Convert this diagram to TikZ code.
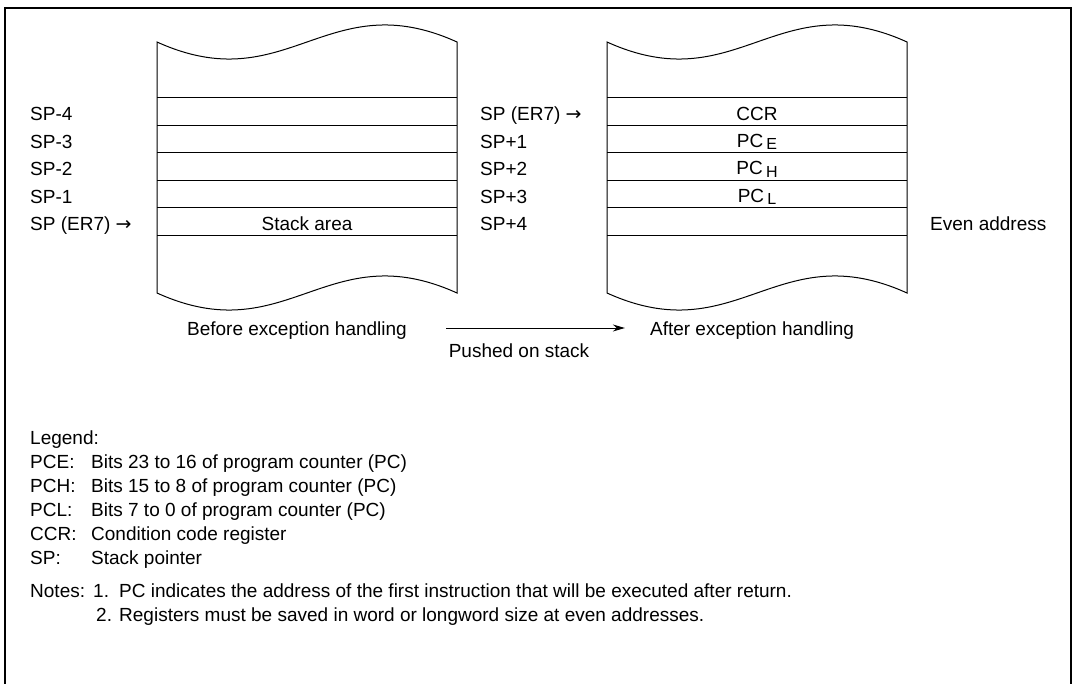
\documentclass[tikz,border=0pt]{standalone}
\usepackage{fontspec}
\setmainfont{Liberation Sans}
\newfontfamily\arrowfont{DejaVu Sans}
\usetikzlibrary{arrows.meta,positioning}
\tikzset{
  txt/.style={font=\fontsize{19}{23}\selectfont,inner sep=0pt,anchor=base},
  lft/.style={txt,anchor=base west},
  stk/.style={line width=1pt},
  frm/.style={line width=2pt},
  push/.style={-{Stealth[length=12pt,width=7pt]},line width=1pt},
}
\newcommand{\regsub}[1]{\,\raisebox{-0.22ex}{\fontsize{16}{16}\selectfont #1}}
\newcommand{\ptr}{{\arrowfont →}}

\begin{document}
\begin{tikzpicture}[x=1pt,y=-1pt]
    \useasboundingbox (0,0) rectangle (1075,684);
    % frame (open at the bottom)
    \draw[frm] (5,684) -- (5,8) -- (1071,8) -- (1071,684);
    % the two stacks
    \foreach \dx in {0,450}{
      \draw[stk] (157+\dx,42) .. controls (287+\dx,101) and (327+\dx,-17) .. (457+\dx,42)
        -- (457+\dx,293) .. controls (327+\dx,234) and (287+\dx,352) .. (157+\dx,293) -- cycle;
      \foreach \y in {98,125.5,153,180.5,208,236}
        \draw[stk] (157+\dx,\y) -- (457+\dx,\y);
    }
    % before: addresses
    \node[lft] (bm4) at (30,121) {SP-4};
    \node[lft] (bm3) at (30,148.5) {SP-3};
    \node[lft] (bm2) at (30,176) {SP-2};
    \node[lft] (bm1) at (30,203.5) {SP-1};
    \node[lft] (bsp) at (30,231) {SP (ER7) \ptr};
    \node[txt] (area) at (307,231) {Stack area};
    % after: addresses
    \node[lft] (asp) at (480,121) {SP (ER7) \ptr};
    \node[lft] (ap1) at (480,148.5) {SP+1};
    \node[lft] (ap2) at (480,176) {SP+2};
    \node[lft] (ap3) at (480,203.5) {SP+3};
    \node[lft] (ap4) at (480,231) {SP+4};
    \node[txt] (ccr) at (757,121) {CCR};
    \node[txt] (pce) at (757,147.5) {PC\regsub{E}};
    \node[txt] (pch) at (757,175) {PC\regsub{H}};
    \node[txt] (pcl) at (757,202.5) {PC\regsub{L}};
    \node[lft] (even) at (930,231) {Even address};
    % captions
    \node[txt] (before) at (297,335) {Before exception handling};
    \node[txt] (after) at (752,335) {After exception handling};
    \draw[push] ([xshift=39pt]before.east |- 0,328) -- ([xshift=-25pt]after.west |- 0,328);
    \node[txt] (pushed) at (519,357) {Pushed on stack};
    % legend
    \node[lft] (legend) at (30,444) {Legend:};
    \foreach \t/\d [count=\i] in {PCE:/Bits 23 to 16 of program counter (PC),
        PCH:/Bits 15 to 8 of program counter (PC),
        PCL:/Bits 7 to 0 of program counter (PC),
        CCR:/Condition code register,
        SP:/Stack pointer}{
      \node[lft] (term\i) at (30,444+24*\i) {\t};
      \node[lft] (desc\i) at (91,444+24*\i) {\d};
    }
    % notes
    \node[lft] (notes) at (30,597) {Notes:};
    \node[lft] (n1) at (93,597) {1.};
    \node[lft] (n1t) at (119,597) {PC indicates the address of the first instruction that will be executed after return.};
    \node[lft] (n2) at (96,621) {2.};
    \node[lft] (n2t) at (119,621) {Registers must be saved in word or longword size at even addresses.};
\end{tikzpicture}
\end{document}
